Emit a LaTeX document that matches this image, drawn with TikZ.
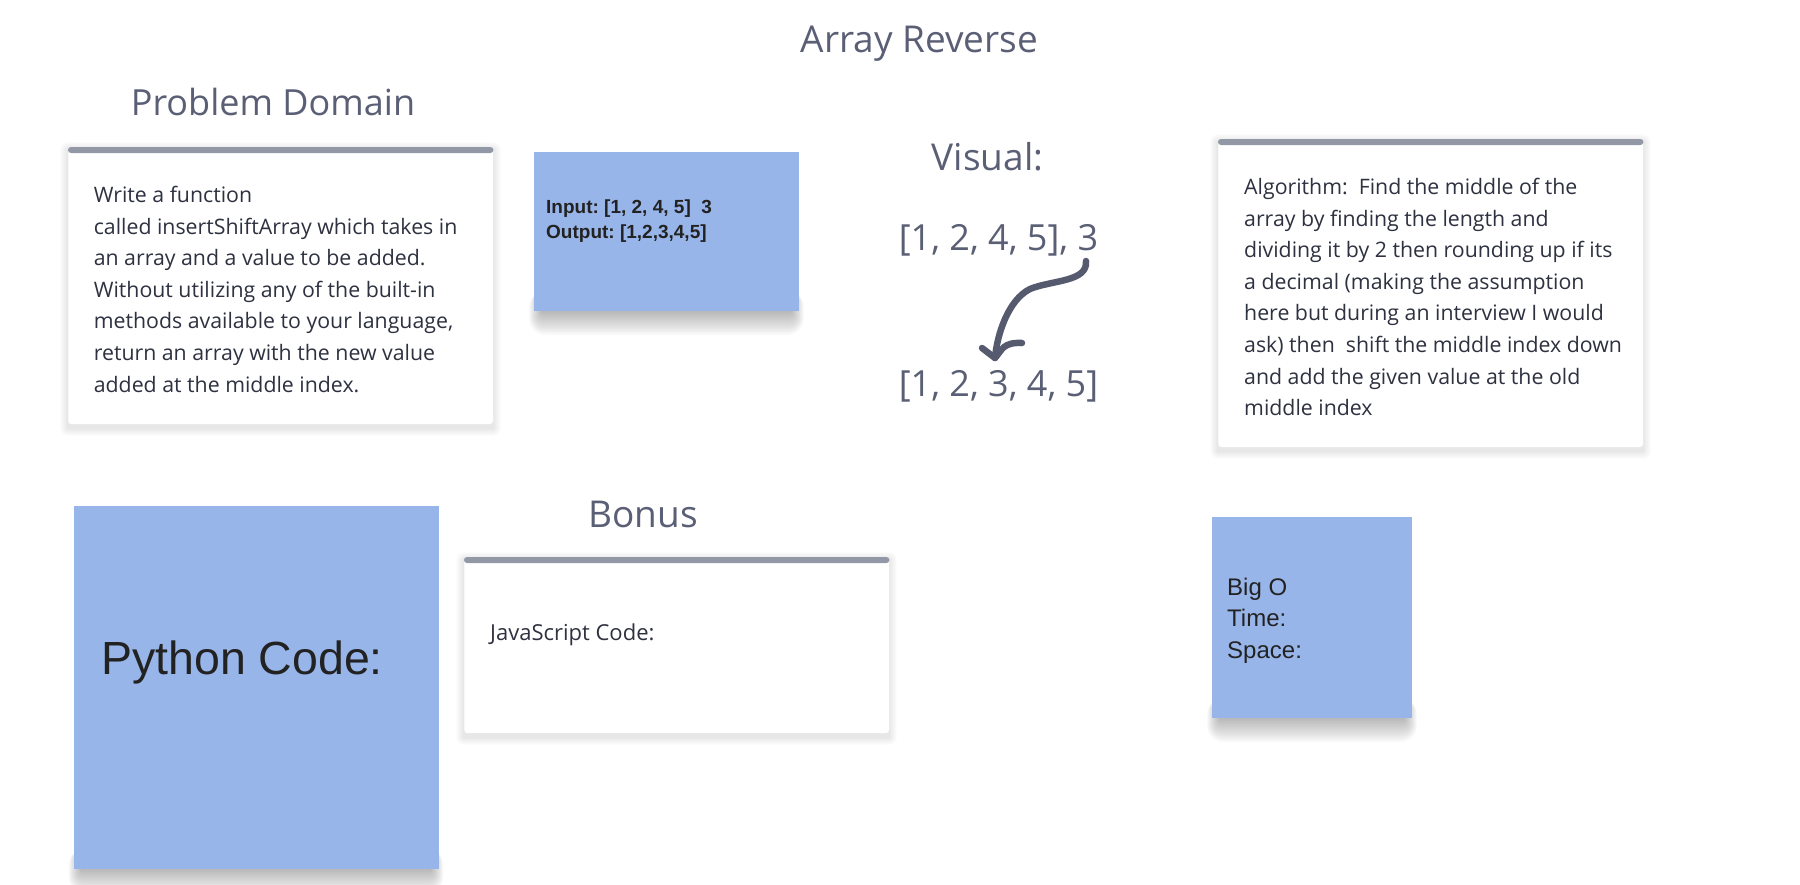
\documentclass[tikz,border=0pt]{standalone}
\usepackage{fontspec}
\setmainfont{Open Sans}
\newfontfamily\stickyfont{Liberation Sans}
\frenchspacing

\definecolor{headgray}{HTML}{5A5F75}
\definecolor{bodytext}{HTML}{2E3140}
\definecolor{stickyblue}{HTML}{98B5EA}
\definecolor{bargray}{HTML}{9298A5}
\definecolor{penink}{HTML}{555A6E}
\definecolor{stickytext}{HTML}{222222}

\tikzset{
  heading/.style={text=headgray, inner sep=0pt, anchor=base, font=\fontsize{37}{42}\selectfont},
  card/.style={draw=black!8, fill=white, rounded corners=3pt, anchor=north west, inner sep=0pt},
  sticky/.style={fill=stickyblue, anchor=north west, inner sep=0pt},
  cardtext/.style={text=bodytext, align=left, anchor=north west, inner sep=0pt, font=\fontsize{21.3}{31.6}\selectfont},
  stickylabel/.style={text=stickytext, align=left, inner sep=0pt},
}

% soft shadows, corners given as x1,y1,x2,y2 (y grows downwards)
\newcommand\cardshadow[4]{%
  \foreach \k in {1,...,8}{\fill[black,opacity=0.011,rounded corners=\k pt] (#1-\k,#2-\k+3) rectangle (#3+\k,#4+\k+4);}}
\newcommand\stickyshadow[4]{%
  \foreach \k in {1,...,16}{\fill[black,opacity=0.02,rounded corners=\k pt] (#1+8-\k*0.8,#4-20) rectangle (#3-8+\k*0.8,#4+\k*1.5);}}
\newcommand\cardbar[1]{%
  \fill[bargray,rounded corners=3pt] (#1.north west) rectangle ([yshift=-6pt]#1.north east);}

\begin{document}
\begin{tikzpicture}[x=1pt,y=-1pt]
\useasboundingbox (0,0) rectangle (1800,884);

\node[heading] (title) at (919.5,52) {Array Reverse};
\node[heading, font=\fontsize{36}{42}\selectfont] (pdhead) at (273,115) {Problem Domain};
\node[heading] (visual) at (987.5,170) {Visual:};
\node[heading] (bonus) at (643,527) {Bonus};

% problem domain card
\cardshadow{68}{147}{493}{424}
\node[card, minimum width=425pt, minimum height=277pt] (pdcard) at (68,147) {};
\cardbar{pdcard}
\node[cardtext] (pdtext) at (93.6,186) {Write a function\\
called insertShiftArray which takes in\\
an array and a value to be added.\\
Without utilizing any of the built-in\\
methods available to your language,\\
return an array with the new value\\
added at the middle index.};

% input / output sticky
\stickyshadow{534}{152}{799}{311}
\node[sticky, minimum width=265pt, minimum height=159pt] (iosticky) at (534,152) {};
\node[stickylabel, anchor=north west, font=\stickyfont\bfseries\fontsize{19}{25}\selectfont] (iotext) at (546,200)
  {Input: [1, 2, 4, 5]\ \ 3\\Output: [1,2,3,4,5]};

% visual
\node[heading, font=\fontsize{36}{42}\selectfont] (before) at (998.5,250) {[1, 2, 4, 5], 3};
\node[heading, font=\fontsize{36}{42}\selectfont] (after) at (998.5,396) {[1, 2, 3, 4, 5]};
\coordinate (penstart) at (1086,261);
\coordinate (pentip) at (995,358);
\draw[penink, line width=6.5pt, line cap=round, line join=round]
  (penstart) .. controls (1088,282) and (1052,280) .. (1030,289)
  .. controls (1008,300) and (997,335) .. (pentip);
\draw[penink, line width=6.5pt, line cap=round, line join=round]
  (982,348) -- (pentip) .. controls (1002,350) and (1003,342) .. (1022,343);

% algorithm card
\cardshadow{1218}{139}{1643}{447}
\node[card, minimum width=425pt, minimum height=308pt] (algcard) at (1218,139) {};
\cardbar{algcard}
\node[cardtext] (algtext) at (1244,178) {Algorithm:\ \ Find the middle of the\\
array by finding the length and\\
dividing it by 2 then rounding up if its\\
a decimal (making the assumption\\
here but during an interview I would\\
ask) then\ \ shift the middle index down\\
and add the given value at the old\\
middle index};

% python sticky
\stickyshadow{73.5}{506}{438.5}{869}
\node[sticky, minimum width=365pt, minimum height=363pt] (pysticky) at (73.5,506) {};
\node[stickylabel, anchor=base west, font=\stickyfont\fontsize{46.5}{50}\selectfont] (pytext) at (101,674) {Python Code:};

% javascript card
\cardshadow{464}{557}{889}{733}
\node[card, minimum width=425pt, minimum height=176pt] (jscard) at (464,557) {};
\cardbar{jscard}
\node[cardtext, anchor=base west, font=\fontsize{22}{31.6}\selectfont] (jstext) at (490,640) {JavaScript Code:};

% big o sticky
\stickyshadow{1212}{517}{1412}{718}
\node[sticky, minimum width=200pt, minimum height=201pt] (bigosticky) at (1212,517) {};
\node[stickylabel, anchor=north west, font=\stickyfont\fontsize{24}{31.5}\selectfont] (bigotext) at (1227,577.5)
  {Big O\\Time:\\Space:};
\end{tikzpicture}
\end{document}
